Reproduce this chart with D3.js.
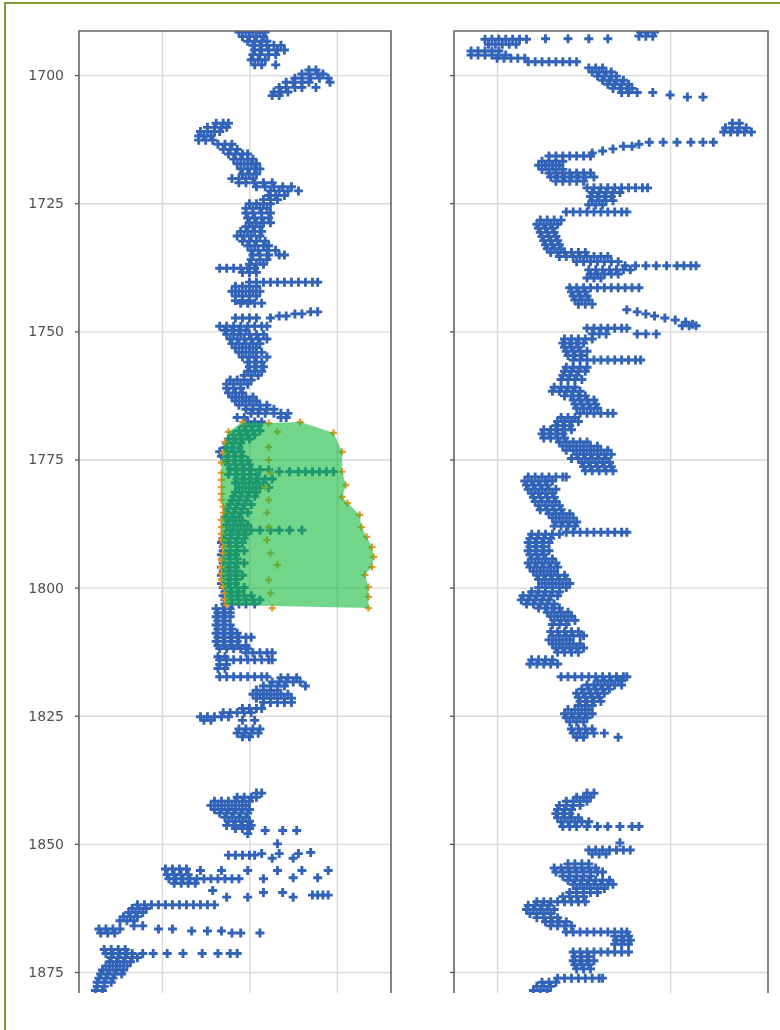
<!DOCTYPE html>
<html>
<head>
<meta charset="utf-8">
<script src="https://cdn.jsdelivr.net/npm/d3@7/dist/d3.min.js"></script>
<style>
  body { margin: 0; background: #fff; }
  text { font-family: "DejaVu Sans", sans-serif; }
</style>
</head>
<body>
<svg id="chart" width="780" height="1030"></svg>
<script>
const depthTicks = [1700, 1725, 1750, 1775, 1800, 1825, 1850, 1875];
const grTicks = [50, 100, 150];
const rtTicks = [100, 200];

const grRows = [
  [1691.6, 94, 98, 102, 106, 109], [1692.5, 96, 100, 104, 108], [1693.4, 99, 103, 107, 110],
  [1694.2, 102, 106, 110, 114, 118], [1695.1, 103, 107, 111, 116, 120], [1696.0, 102, 106, 111, 115],
  [1697.0, 101, 105, 109], [1698.0, 103, 107, 115], [1699.0, 134, 138], [1699.8, 130, 134, 139, 142],
  [1700.6, 126, 130, 135, 140, 145], [1701.4, 121, 125, 130, 134, 146], [1702.4, 117, 121, 126, 130, 138],
  [1703.3, 114, 118, 122], [1704.0, 113, 117],
  [1709.4, 81, 85, 88], [1710.2, 76, 80, 84, 87], [1711.0, 72, 76, 80, 83], [1711.9, 71, 74, 78],
  [1712.7, 71, 75, 79], [1713.5, 82, 86, 90], [1714.5, 85, 89, 93], [1715.4, 88, 92, 96, 99],
  [1716.4, 91, 95, 99, 102], [1717.3, 93, 97, 101, 104], [1718.3, 95, 99, 103, 106], [1719.3, 96, 100, 104],
  [1720.2, 90, 94, 98, 102], [1721.0, 94, 98, 103, 108, 113], [1721.8, 104, 109, 114, 119, 124],
  [1722.6, 112, 117, 122, 128], [1723.5, 111, 115, 120], [1724.3, 108, 112, 116],
  [1725.1, 100, 104, 108, 112], [1726.0, 98, 102, 106, 110], [1726.9, 98, 102, 107, 112],
  [1727.9, 99, 103, 107, 111], [1728.8, 100, 104, 108, 112], [1729.6, 98, 102, 106],
  [1730.5, 95, 99, 103, 107], [1731.4, 93, 97, 101, 106], [1732.4, 96, 100, 104, 109],
  [1733.3, 99, 103, 108, 111], [1734.2, 101, 105, 110, 115], [1735.1, 102, 106, 111, 117, 120],
  [1736.0, 101, 106, 110], [1736.9, 100, 104, 108], [1737.7, 83, 87, 91, 95, 99, 103],
  [1738.5, 96, 100, 104], [1740.4, 100, 104, 108, 112, 116, 120, 124, 128, 132, 136, 139],
  [1741.2, 92, 96, 100, 104], [1742.2, 90, 94, 98, 102, 106], [1743.1, 92, 96, 100, 104],
  [1744.0, 92, 96, 100], [1744.5, 95, 99, 103, 107], [1746.2, 135, 139], [1746.6, 126, 130],
  [1747.0, 117, 121], [1747.4, 92, 96, 100, 104, 112], [1749.0, 83, 87, 91, 95, 99, 103, 107, 110],
  [1749.8, 86, 90, 94, 98], [1750.6, 87, 91, 95, 100, 104, 108], [1751.5, 89, 93, 97, 101, 105, 110],
  [1752.4, 90, 94, 98, 102, 106], [1753.2, 92, 96, 100, 104], [1754.1, 94, 98, 102, 107],
  [1755.0, 96, 100, 104, 110], [1756.0, 99, 103, 107], [1756.9, 100, 104, 108], [1757.8, 99, 103, 107],
  [1758.6, 97, 101, 105], [1759.5, 89, 93, 97, 101], [1760.3, 87, 91, 95, 99], [1761.1, 87, 91, 95],
  [1762.0, 88, 92, 96], [1762.8, 90, 94, 98, 102], [1763.6, 92, 96, 100, 104],
  [1764.4, 94, 98, 102, 106, 110], [1765.2, 98, 102, 106, 110, 114], [1766.0, 101, 105, 109, 114, 118, 122],
  [1766.8, 93, 97, 118, 121], [1767.7, 99, 103, 107], [1768.5, 97, 101, 105], [1769.4, 94, 98, 102, 106],
  [1770.2, 91, 95, 99, 103], [1771.0, 88, 92, 96, 100], [1771.8, 87, 91, 95], [1772.7, 86, 90, 94],
  [1773.5, 83, 87, 91, 95], [1774.4, 84, 88, 92, 96], [1775.2, 87, 91, 95, 99], [1776.0, 88, 92, 96, 100],
  [1776.8, 89, 93, 97], [1777.0, 92, 96, 101, 106, 111], [1777.4, 117, 123, 128, 132, 136, 140, 144, 148],
  [1777.9, 88, 92, 96, 100, 104], [1778.8, 93, 97, 101, 105, 109, 113], [1779.6, 92, 96, 100, 104, 108],
  [1780.5, 94, 98, 102, 106, 111], [1781.4, 92, 96, 100, 104], [1782.2, 91, 95, 99, 103],
  [1783.0, 90, 94, 98], [1783.8, 89, 93, 97, 101], [1784.6, 88, 92, 96], [1785.4, 87, 91, 95, 99],
  [1786.2, 86, 90, 94], [1787.0, 88, 92, 96], [1787.8, 87, 91, 95, 99],
  [1788.8, 89, 93, 97, 101, 106, 112, 117, 123, 130], [1789.6, 86, 90, 94, 98], [1790.4, 85, 89, 93, 97],
  [1791.2, 84, 88, 92, 96], [1792.0, 85, 89, 93], [1792.8, 85, 89, 93, 97], [1793.6, 84, 88, 92],
  [1794.4, 85, 89, 93], [1795.2, 85, 89, 93, 97], [1796.0, 84, 88, 92], [1796.8, 85, 89, 93],
  [1797.6, 84, 88, 92, 96], [1798.4, 85, 89, 93], [1799.2, 84, 88, 92], [1800.0, 85, 89, 93, 97],
  [1800.8, 86, 90, 94], [1801.6, 85, 89, 93, 97, 101], [1802.4, 86, 90, 94, 98, 102, 106],
  [1803.2, 86, 90, 94, 98, 103], [1804.1, 81, 85, 89], [1804.9, 82, 86, 89], [1805.7, 81, 85, 89],
  [1806.5, 82, 86], [1807.3, 81, 85, 89], [1808.1, 82, 86, 90], [1808.9, 81, 85, 89, 93],
  [1809.7, 82, 86, 90, 94, 98, 101], [1810.5, 81, 85, 89, 93], [1811.3, 82, 86, 90, 94, 98],
  [1811.9, 83, 87, 91, 95, 99], [1812.7, 98, 102, 106, 110, 113], [1813.5, 82, 86],
  [1814.1, 83, 87, 91, 95, 99, 103, 107, 111, 113], [1815.0, 83, 87], [1815.8, 82, 86],
  [1817.4, 83, 87, 91, 95, 99, 103, 107, 110], [1817.6, 118, 122, 127], [1818.4, 113, 117, 121, 125, 129],
  [1819.2, 108, 112, 116, 120, 132], [1820.0, 104, 108, 112, 116], [1820.8, 102, 106, 110, 114, 118, 122],
  [1821.6, 104, 108, 112, 116, 120, 124], [1822.4, 108, 112, 116, 120, 124], [1823.6, 96, 100, 104, 107],
  [1824.4, 85, 89, 93, 97, 101], [1825.2, 72, 76, 80, 84, 88], [1825.9, 74, 78, 96, 103],
  [1827.6, 94, 98, 102, 106], [1828.4, 93, 97, 101, 105], [1829.1, 96, 100],
  [1840.1, 104, 107], [1840.9, 93, 97, 101, 104], [1841.7, 80, 84, 88, 92, 96, 100],
  [1842.5, 78, 82, 86, 90, 94, 98], [1843.3, 80, 84, 88, 92, 96, 100], [1844.0, 83, 87, 91, 95, 99],
  [1844.8, 86, 90, 94, 98], [1845.6, 88, 92, 96, 100], [1846.4, 87, 91, 95, 99, 101], [1847.0, 92, 96, 100],
  [1847.4, 109, 119, 127], [1848.0, 99], [1850.0, 116], [1851.7, 135], [1851.9, 107, 117, 128],
  [1852.2, 88, 92, 96, 100, 103], [1852.8, 113, 125], [1854.9, 52, 56, 60, 64],
  [1855.2, 72, 84, 99, 116, 130, 145], [1856.0, 53, 57, 61, 65], [1856.6, 125, 139],
  [1856.8, 54, 58, 62, 66, 70, 74, 78, 82, 86, 90, 94, 108], [1857.7, 57, 61, 65, 69], [1859.1, 79],
  [1859.5, 108, 119], [1860.0, 136, 139, 142, 145], [1860.4, 87, 99, 125],
  [1861.9, 36, 40, 44, 48, 52, 56, 60, 64, 68, 72, 76, 80], [1862.6, 33, 37, 41], [1863.4, 31, 35, 39],
  [1864.2, 28, 32, 36], [1865.0, 26, 30, 34], [1866.0, 34, 39], [1866.6, 14, 18, 22, 26, 48, 56],
  [1867.0, 67, 76, 84], [1867.4, 15, 19, 23, 90, 95, 106], [1870.6, 17, 21, 25, 29],
  [1871.4, 18, 22, 26, 30, 33, 39, 45, 53, 62, 73, 82, 89, 93], [1872.2, 21, 25, 29, 33, 36],
  [1873.0, 20, 24, 28, 32], [1873.8, 18, 22, 26, 30], [1874.6, 16, 20, 24, 28], [1875.4, 15, 19, 23, 27],
  [1876.2, 14, 18, 22], [1877.0, 13, 17, 21], [1877.8, 13, 17], [1878.6, 12, 16]
];

const rtRows = [
  [1691.6, 183, 187, 191], [1692.4, 182, 186, 190], [1692.9, 128, 141, 153, 164],
  [1693.0, 93, 97, 101, 105, 109, 113, 117], [1694.0, 95, 99, 103, 107, 111], [1695.3, 85, 89, 93, 97, 101],
  [1696.1, 85, 89, 93, 97, 101, 105], [1696.7, 100, 104, 108, 112, 116],
  [1697.4, 118, 122, 126, 130, 134, 138, 142, 146], [1698.6, 153, 157, 161], [1699.4, 155, 159, 163, 166],
  [1700.2, 158, 162, 166, 169], [1701.0, 161, 165, 169, 173], [1701.8, 164, 168, 172, 176],
  [1702.6, 167, 171, 175, 178], [1703.4, 172, 176, 181, 190], [1703.9, 200], [1704.3, 210, 219],
  [1709.4, 236, 240], [1710.3, 232, 236, 240, 244], [1711.1, 231, 235, 239, 243, 247],
  [1713.1, 188, 196, 204, 212, 219, 225], [1713.5, 182], [1713.9, 173, 178], [1714.4, 167], [1714.8, 161],
  [1715.2, 155], [1715.8, 130, 134, 138, 142, 146, 150, 154], [1716.8, 126, 130, 134, 138],
  [1717.6, 124, 128, 132, 136], [1718.4, 126, 130, 134, 138], [1719.1, 130, 134, 138, 142, 146, 150, 154],
  [1719.9, 131, 135, 139, 143, 147, 151, 156], [1720.7, 134, 138, 142, 146, 150],
  [1722.0, 152, 156, 160, 164, 168, 172, 176, 180, 184, 187], [1722.9, 155, 159, 163, 167, 171],
  [1723.7, 154, 158, 162, 166], [1724.5, 155, 159, 163, 167], [1725.3, 153, 157, 161],
  [1726.7, 140, 144, 148, 152, 156, 160, 164, 168, 172, 175], [1728.3, 125, 129, 133, 137],
  [1729.1, 123, 127, 131, 135], [1729.9, 124, 128, 132], [1730.7, 125, 129, 133], [1731.5, 126, 130, 134],
  [1732.3, 127, 131, 135], [1733.1, 128, 132, 136], [1733.9, 129, 133, 137],
  [1734.6, 131, 135, 139, 143, 147, 151], [1735.4, 136, 140, 144, 148, 152, 156, 160, 164],
  [1736.4, 146, 150, 154, 158, 162, 166, 170], [1737.2, 174, 180, 186, 192, 198, 204, 208, 212, 215],
  [1738.0, 153, 157, 161, 165, 169, 173, 177], [1738.8, 154, 158, 162, 166, 170], [1739.6, 152, 156, 160],
  [1741.5, 142, 146, 150, 154, 158, 162, 166, 170, 174, 178, 182], [1742.3, 143, 147, 151],
  [1743.1, 144, 148, 152], [1743.9, 145, 149, 153], [1744.7, 147, 151, 155], [1745.8, 175], [1746.2, 181],
  [1746.6, 186], [1747.0, 191], [1747.4, 197], [1747.8, 203], [1748.2, 209], [1748.6, 213],
  [1748.9, 207, 211, 215], [1749.4, 152, 156, 160, 164, 168, 172, 175], [1750.5, 155, 159, 163, 181, 186, 192],
  [1751.5, 139, 143, 147, 151, 155], [1752.3, 138, 142, 146, 150], [1753.1, 139, 143, 147],
  [1753.9, 140, 144, 148, 152], [1754.7, 141, 145, 149],
  [1755.6, 144, 148, 152, 156, 160, 164, 168, 172, 176, 180, 183], [1757.0, 140, 144, 148, 152],
  [1757.8, 139, 143, 147, 151], [1758.6, 138, 142, 146], [1759.4, 137, 141, 145, 149],
  [1760.9, 133, 137, 141, 145], [1761.7, 132, 136, 140, 144, 148], [1762.6, 139, 143, 147, 151],
  [1763.4, 144, 148, 152, 156], [1764.2, 145, 149, 153, 157], [1765.0, 146, 150, 154, 158],
  [1766.0, 148, 152, 156, 160, 164, 167], [1766.8, 137, 141, 145], [1767.6, 135, 139, 143, 147],
  [1768.4, 134, 138, 142], [1769.2, 127, 131, 135, 139, 143], [1770.0, 126, 130, 134, 138],
  [1770.8, 127, 131, 135, 139], [1771.6, 136, 140, 144, 148, 152], [1772.4, 138, 142, 146, 150, 154, 158],
  [1773.2, 140, 144, 148, 152, 156, 160, 164], [1774.0, 146, 150, 154, 158, 162, 166],
  [1774.8, 143, 147, 151, 155, 159, 163], [1775.6, 149, 153, 157, 161, 165], [1776.4, 150, 154, 158, 162, 166],
  [1777.2, 151, 155, 159, 163, 167], [1778.4, 118, 122, 126, 130, 134, 138, 140],
  [1779.2, 116, 120, 124, 128, 132], [1780.0, 117, 121, 125, 129], [1780.8, 118, 122, 126, 130, 134],
  [1781.6, 120, 124, 128, 132], [1782.4, 121, 125, 129, 133], [1783.2, 122, 126, 130, 134],
  [1784.0, 124, 128, 132, 136], [1784.8, 125, 129, 133, 137], [1785.6, 130, 134, 138, 142],
  [1786.4, 132, 136, 140, 144], [1787.2, 134, 138, 142, 146], [1788.0, 133, 137, 141, 145],
  [1789.2, 140, 144, 148, 152, 156, 160, 164, 168, 172, 175], [1789.6, 120, 124, 128, 132, 136],
  [1790.4, 119, 123, 127, 131], [1791.2, 118, 122, 126, 130], [1792.0, 119, 123, 127],
  [1792.8, 118, 122, 126, 130], [1793.6, 119, 123, 127], [1794.4, 120, 124, 128, 132],
  [1795.2, 118, 122, 126, 130, 134], [1796.0, 119, 123, 127, 131, 135], [1796.8, 121, 125, 129, 133],
  [1797.6, 123, 127, 131, 135, 139], [1798.4, 124, 128, 132, 136, 140], [1799.2, 126, 130, 134, 138, 142],
  [1800.0, 124, 128, 132, 136, 140], [1800.8, 120, 124, 128, 132, 136], [1801.6, 115, 119, 123, 127, 131, 135],
  [1802.4, 114, 118, 122, 126, 130], [1803.2, 117, 121, 125, 129, 133], [1804.0, 124, 128, 132, 136],
  [1804.8, 129, 133, 137, 141], [1805.6, 131, 135, 139, 143], [1806.4, 133, 137, 141, 145],
  [1807.2, 132, 136, 140], [1808.6, 131, 135, 139, 143, 147], [1809.4, 132, 136, 140, 144, 148, 150],
  [1810.2, 130, 134, 138, 142], [1811.0, 132, 136, 140, 144, 148], [1811.8, 134, 138, 142, 146, 150],
  [1812.6, 135, 139, 143, 147], [1814.1, 120, 124, 128, 132], [1814.9, 119, 123, 127, 131, 135],
  [1817.4, 137, 141, 145, 149, 153, 157, 161, 165, 169, 173, 175], [1818.2, 158, 162, 166, 170, 172],
  [1819.0, 152, 156, 160, 164, 168, 172], [1819.8, 149, 153, 157, 161, 165], [1820.6, 146, 150, 154, 158, 162],
  [1821.4, 147, 151, 155, 159], [1822.2, 148, 152, 156, 160], [1823.0, 147, 151, 155],
  [1823.8, 141, 145, 149, 153], [1824.6, 139, 143, 147, 151, 155], [1825.4, 140, 144, 148, 152],
  [1826.2, 142, 146, 150], [1827.6, 143, 147, 151, 155], [1828.4, 144, 148, 152, 156, 162],
  [1829.2, 146, 150, 170], [1840.1, 152, 156], [1840.9, 146, 150, 154], [1841.7, 140, 144, 148, 152],
  [1842.5, 136, 140, 144, 148], [1843.3, 135, 139, 143], [1844.1, 134, 138, 142], [1844.9, 135, 139, 143, 147],
  [1845.7, 137, 141, 145, 149, 153], [1846.6, 138, 142, 146, 152, 158, 164, 171, 178, 182], [1849.8, 171],
  [1851.2, 153, 157, 161, 165, 169, 173, 177], [1852.0, 155, 159, 163], [1853.9, 141, 145, 149, 153],
  [1854.7, 133, 137, 141, 145, 149, 153, 157], [1855.5, 134, 138, 142, 146, 150, 154, 158, 161],
  [1856.3, 138, 142, 146, 150, 154], [1857.1, 141, 145, 149, 153, 157, 161, 165],
  [1857.9, 144, 148, 152, 156, 160, 164, 167], [1858.7, 146, 150, 154, 158, 162],
  [1859.5, 142, 146, 150, 154, 158], [1860.3, 138, 142, 146, 150],
  [1861.3, 123, 127, 131, 135, 139, 143, 147, 151], [1862.0, 118, 122, 126, 130],
  [1862.8, 117, 121, 125, 129, 133], [1863.6, 119, 123, 127, 131], [1864.4, 123, 127, 131, 135],
  [1865.2, 128, 132, 136, 140], [1866.0, 131, 135, 139, 143],
  [1867.2, 140, 144, 148, 152, 156, 160, 164, 168, 172, 175], [1868.0, 168, 172, 176], [1868.8, 169, 173, 177],
  [1869.6, 168, 172, 176], [1871.1, 144, 148, 152, 156, 160, 164, 168, 172, 176], [1872.0, 145, 149, 153],
  [1872.8, 144, 148, 152, 156], [1873.6, 145, 149, 153], [1874.4, 146, 150, 154],
  [1876.2, 135, 139, 143, 147, 151, 155, 159, 161], [1877.0, 126, 130, 134], [1877.8, 123, 127, 131],
  [1878.6, 121, 125, 129]
];

// shaded zone on the first track: [depth, value]
const zoneRight = [
  [1767.7, 96], [1767.9, 111], [1767.7, 129], [1769.8, 148], [1773.5, 153], [1777.4, 153], [1780.0, 155],
  [1782.3, 153], [1783.5, 156], [1785.8, 163], [1788.2, 164], [1790.1, 167], [1792.1, 170], [1794.0, 171],
  [1796.0, 170], [1797.5, 166], [1799.9, 168], [1801.8, 168], [1804.0, 168]
];
const zoneLeft = [
  [1769.6, 88], [1771.6, 86], [1773.7, 85], [1775.6, 84], [1777.6, 84], [1779.0, 84], [1780.4, 84],
  [1781.7, 84], [1782.9, 84], [1784.2, 85], [1785.4, 85], [1786.8, 84], [1788.2, 84], [1789.5, 84],
  [1790.7, 84], [1792.0, 85], [1793.3, 85], [1794.6, 84], [1796.0, 84], [1797.3, 84], [1798.5, 84],
  [1799.8, 85], [1801.1, 86], [1802.3, 86], [1803.4, 87]
];
const zoneMid = [
  [1769.6, 116], [1772.6, 111], [1775.1, 111], [1777.6, 112], [1780.4, 109], [1782.9, 111], [1785.4, 110],
  [1788.2, 111], [1790.7, 110], [1793.3, 112], [1795.6, 116], [1798.5, 111], [1801.1, 112], [1804.0, 113]
];

const svg = d3.select("#chart");
const [plotTop, plotBottom] = [31, 993];

const y = d3.scaleLinear().domain([1691.4, 1879.1]).range([plotTop, plotBottom]);

const panels = [
  { rows: grRows, ticks: grTicks, x: d3.scaleLinear().domain([2.6, 180.9]).range([79, 391]), labels: true, zone: true },
  { rows: rtRows, ticks: rtTicks, x: d3.scaleLinear().domain([75.1, 256.6]).range([454, 768]), labels: false, zone: false }
];

const plus = (r) => `M${-r},0H${r}M0,${-r}V${r}`;

// outer frame
svg.append("rect")
  .attr("x", 5).attr("y", 3)
  .attr("width", 800).attr("height", 1050)
  .attr("fill", "none")
  .attr("stroke", "#7f9e3a")
  .attr("stroke-width", 2);

const defs = svg.append("defs");
defs.append("filter").attr("id", "soft")
  .append("feGaussianBlur").attr("stdDeviation", 0.6);

panels.forEach((p, i) => {
  const [x0, x1] = p.x.range();
  const g = svg.append("g");

  defs.append("clipPath").attr("id", `clip${i}`)
    .append("rect")
    .attr("x", x0).attr("y", plotTop)
    .attr("width", x1 - x0).attr("height", plotBottom - plotTop);

  // grid
  g.append("g")
    .attr("transform", `translate(${x0},0)`)
    .call(d3.axisLeft(y).tickValues(depthTicks).tickSize(-(x1 - x0)).tickFormat(""))
    .call(s => s.select(".domain").remove())
    .call(s => s.selectAll("line").attr("stroke", "#d9d9d9").attr("stroke-width", 1.4));
  g.append("g")
    .attr("transform", `translate(0,${plotBottom})`)
    .call(d3.axisBottom(p.x).tickValues(p.ticks).tickSize(-(plotBottom - plotTop)).tickFormat(""))
    .call(s => s.select(".domain").remove())
    .call(s => s.selectAll("line").attr("stroke", "#d9d9d9").attr("stroke-width", 1.4));

  const data = g.append("g").attr("clip-path", `url(#clip${i})`).attr("filter", "url(#soft)");

  const pts = p.rows.flatMap(([d, ...vs]) => vs.map(v => [d, v]));
  data.selectAll("path.pt")
    .data(pts)
    .join("path")
    .attr("class", "pt")
    .attr("transform", ([d, v]) => `translate(${p.x(v)},${y(d)})`)
    .attr("d", plus(4.5))
    .attr("stroke", "#3064b8")
    .attr("stroke-width", 2.9)
    .attr("fill", "none");

  if (p.zone) {
    const zonePts = [...zoneLeft, ...zoneMid, ...zoneRight];
    data.selectAll("path.zp")
      .data(zonePts)
      .join("path")
      .attr("class", "zp")
      .attr("transform", ([d, v]) => `translate(${p.x(v)},${y(d)})`)
      .attr("d", plus(3.5))
      .attr("stroke", "#e8962c")
      .attr("stroke-width", 2.2)
      .attr("fill", "none");

    const area = d3.line().x(([d, v]) => p.x(v)).y(([d]) => y(d));
    data.append("path")
      .attr("d", area([...zoneRight, ...zoneLeft.slice().reverse()]) + "Z")
      .attr("fill", "#14b93c")
      .attr("fill-opacity", 0.6)
      .attr("stroke", "none");
  }

  // spines
  const spine = g.append("g").attr("stroke", "#666").attr("stroke-width", 1.6).attr("fill", "none");
  spine.append("path").attr("d", `M${x0},${plotBottom}V${plotTop}H${x1}V${plotBottom}`);

  // depth ticks
  const ax = g.append("g")
    .attr("transform", `translate(${x0},0)`)
    .call(d3.axisLeft(y).tickValues(depthTicks).tickSize(4).tickPadding(11)
      .tickFormat(p.labels ? d3.format("d") : ""));
  ax.select(".domain").remove();
  ax.selectAll("line").attr("stroke", "#555").attr("stroke-width", 1.3);
  ax.selectAll("text")
    .attr("fill", "#505050")
    .style("font-size", "14px")
    .style("font-family", "'DejaVu Sans', sans-serif");
});
</script>
</body>
</html>
